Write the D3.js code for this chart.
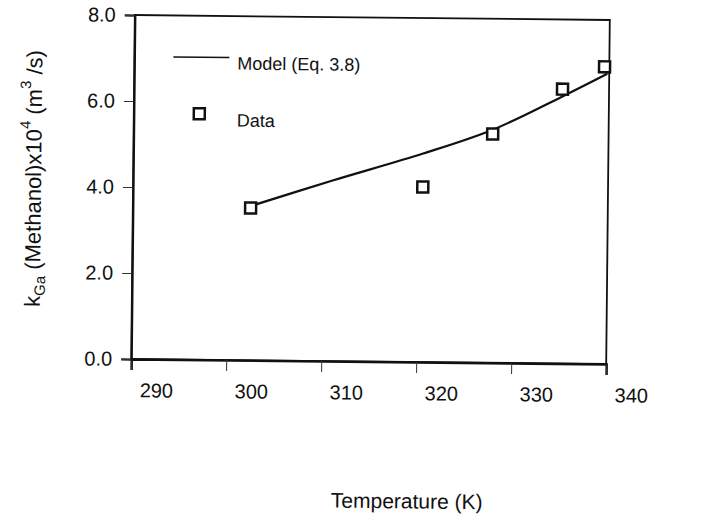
<!DOCTYPE html>
<html>
<head>
<meta charset="utf-8">
<script src="https://cdn.jsdelivr.net/npm/d3@7"></script>
<style>
  body { margin: 0; background: #fff; }
  text { font-family: "Liberation Sans", Arial, sans-serif; fill: #111; }
</style>
</head>
<body>
<svg id="chart" width="722" height="531"></svg>
<script>
// Data
const temps = [302.4, 320.5, 327.8, 335.1, 339.5];
const kga = [3.54, 4.07, 5.32, 6.38, 6.91];
const modelT = [302.6, 311, 320.5, 327.8, 335, 339.8];
const modelK = [3.6, 4.2, 4.85, 5.42, 6.2, 6.75];
const xTicks = [290, 300, 310, 320, 330, 340];
const yTicks = [0, 2, 4, 6, 8];

const svg = d3.select("#chart");
// the scan is slightly tilted
const g = svg.append("g").attr("transform", "rotate(0.6, 370, 190)");

const x = d3.scaleLinear().domain([290, 340]).range([133, 608]);
const y = d3.scaleLinear().domain([0, 8]).range([361.5, 17.5]);

// frame
g.append("rect")
    .attr("x", x(290)).attr("y", y(8))
    .attr("width", x(340) - x(290)).attr("height", y(0) - y(8))
    .attr("fill", "none").attr("stroke", "#111").attr("stroke-width", 1.8);

// x axis (labels in the scan sit a bit right of their ticks)
const xAxis = g.append("g")
    .attr("transform", `translate(0,${y(0)})`)
    .call(d3.axisBottom(x).tickValues(xTicks).tickSize(11).tickPadding(13).tickFormat(d3.format("d")));
xAxis.select(".domain").attr("stroke", "#111").attr("stroke-width", 2.5);
xAxis.selectAll(".tick line").attr("stroke", "#333");
xAxis.selectAll(".tick text")
    .attr("dx", 25)
    .attr("font-size", 20)
    .attr("font-family", "Liberation Sans, Arial, sans-serif")
    .attr("fill", "#111");

// y axis
const yAxis = g.append("g")
    .attr("transform", `translate(${x(290)},0)`)
    .call(d3.axisLeft(y).tickValues(yTicks).tickSize(10).tickPadding(9).tickFormat(d3.format(".1f")));
yAxis.select(".domain").attr("stroke", "#111").attr("stroke-width", 2.2);
yAxis.selectAll(".tick line").attr("stroke", "#333");
yAxis.selectAll(".tick text")
    .attr("font-size", 20)
    .attr("font-family", "Liberation Sans, Arial, sans-serif")
    .attr("fill", "#111");

// model curve
const line = d3.line()
    .x(d => x(d[0]))
    .y(d => y(d[1]))
    .curve(d3.curveCatmullRom);

g.append("path")
    .datum(modelT.map((t, i) => [t, modelK[i]]))
    .attr("d", line)
    .attr("fill", "none")
    .attr("stroke", "#111")
    .attr("stroke-width", 2.2);

// data squares
g.selectAll("rect.pt")
    .data(temps.map((t, i) => [t, kga[i]]))
    .enter()
    .append("rect")
    .attr("class", "pt")
    .attr("x", d => x(d[0]) - 5.5)
    .attr("y", d => y(d[1]) - 5.5)
    .attr("width", 11)
    .attr("height", 11)
    .attr("fill", "#fff")
    .attr("stroke", "#111")
    .attr("stroke-width", 2.5);

// legend
g.append("line")
    .attr("x1", 172).attr("x2", 228).attr("y1", 59).attr("y2", 59)
    .attr("stroke", "#111").attr("stroke-width", 1.6);
g.append("text").attr("x", 236).attr("y", 71).attr("font-size", 18).text("Model (Eq. 3.8)");
g.append("rect")
    .attr("x", 193).attr("y", 110).attr("width", 11).attr("height", 11)
    .attr("fill", "#fff").attr("stroke", "#111").attr("stroke-width", 2.5);
g.append("text").attr("x", 236).attr("y", 128).attr("font-size", 18).text("Data");

// axis titles
g.append("text")
    .attr("x", 410).attr("y", 508)
    .attr("text-anchor", "middle")
    .attr("font-size", 21)
    .text("Temperature (K)");

const yt = g.append("text")
    .attr("transform", "translate(41,182) rotate(-90)")
    .attr("text-anchor", "middle")
    .attr("font-size", 22);
yt.append("tspan").text("k");
yt.append("tspan").attr("font-size", 15).attr("dy", 5).text("Ga");
yt.append("tspan").attr("dy", -5).text(" (Methanol)x10");
yt.append("tspan").attr("font-size", 15).attr("dy", -11).text("4");
yt.append("tspan").attr("dy", 11).text(" (m");
yt.append("tspan").attr("font-size", 15).attr("dy", -11).text("3");
yt.append("tspan").attr("dy", 11).text(" /s)");
</script>
</body>
</html>
